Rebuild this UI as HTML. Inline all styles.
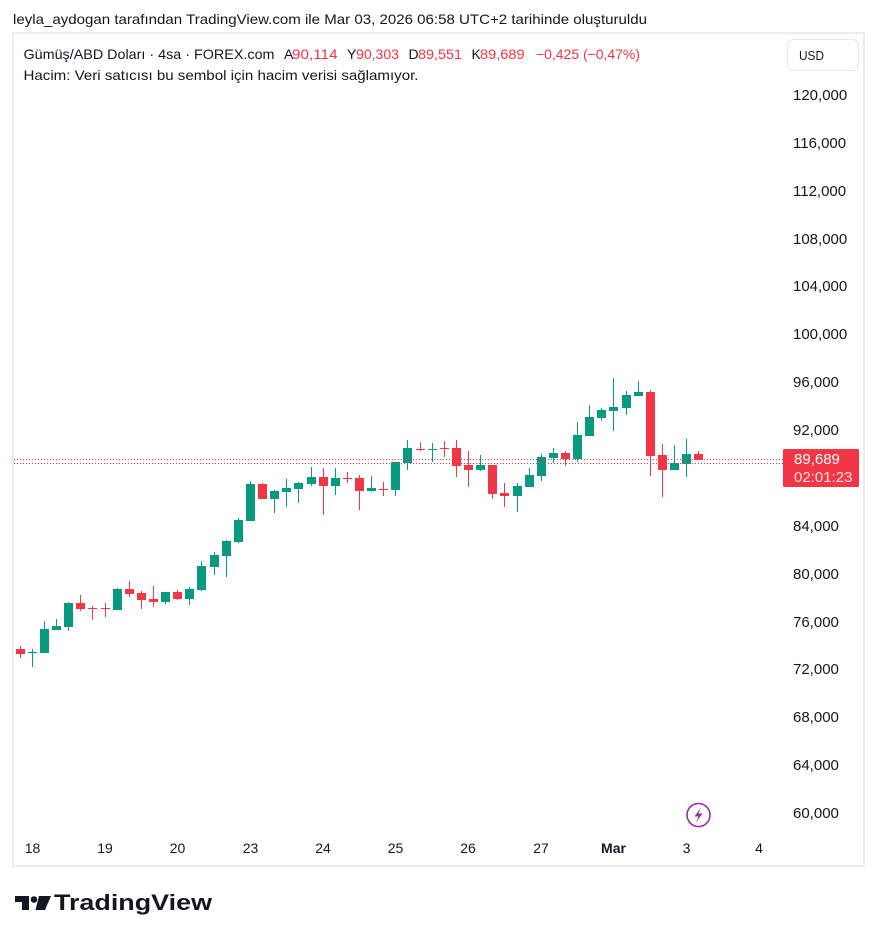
<!DOCTYPE html>
<html><head><meta charset="utf-8"><style>
html,body{margin:0;padding:0;background:#fff;}
svg{display:block;}
text{font-family:"Liberation Sans",Arial,sans-serif;}
</style></head><body>
<svg width="877" height="941" viewBox="0 0 877 941" xmlns="http://www.w3.org/2000/svg">
<rect width="877" height="941" fill="#fff"/>
<text x="13" y="24" font-size="14" fill="#131722" textLength="634" lengthAdjust="spacingAndGlyphs">leyla_aydogan tarafından TradingView.com ile Mar 03, 2026 06:58 UTC+2 tarihinde oluşturuldu</text>
<rect x="13" y="33" width="851" height="833" fill="#fff" stroke="#ececec" stroke-width="2"/>
<text y="59" font-size="14" fill="#131722">
<tspan x="23.5" textLength="251" lengthAdjust="spacingAndGlyphs">Gümüş/ABD Doları · 4sa · FOREX.com</tspan>
</text>
<text y="59" font-size="14" fill="#131722"><tspan x="284">A</tspan></text>
<text y="59" font-size="14" fill="#F23645" x="292" textLength="45.6" lengthAdjust="spacingAndGlyphs">90,114</text>
<text y="59" font-size="14" fill="#131722" x="347">Y</text>
<text y="59" font-size="14" fill="#F23645" x="356" textLength="43" lengthAdjust="spacingAndGlyphs">90,303</text>
<text y="59" font-size="14" fill="#131722" x="408.5">D</text>
<text y="59" font-size="14" fill="#F23645" x="418" textLength="44" lengthAdjust="spacingAndGlyphs">89,551</text>
<text y="59" font-size="14" fill="#131722" x="471.5">K</text>
<text y="59" font-size="14" fill="#F23645" x="480" textLength="44.6" lengthAdjust="spacingAndGlyphs">89,689</text>
<text y="59" font-size="14" fill="#F23645" x="536" textLength="104" lengthAdjust="spacingAndGlyphs">−0,425 (−0,47%)</text>
<text y="80" font-size="14" fill="#131722" x="23.5" textLength="395" lengthAdjust="spacingAndGlyphs">Hacim: Veri satıcısı bu sembol için hacim verisi sağlamıyor.</text>

<rect x="787.5" y="39.5" width="71" height="31" rx="6" fill="#fff" stroke="#e6e6e6" stroke-width="1"/>
<text x="799" y="60" font-size="13" fill="#131722" textLength="25" lengthAdjust="spacingAndGlyphs">USD</text>

<g font-size="15" fill="#131722">
<text x="793" y="100">120,000</text>
<text x="793" y="148">116,000</text>
<text x="793" y="196">112,000</text>
<text x="793" y="244">108,000</text>
<text x="793" y="291">104,000</text>
<text x="793" y="339">100,000</text>
<text x="793" y="387">96,000</text>
<text x="793" y="435">92,000</text>
<text x="793" y="531">84,000</text>
<text x="793" y="579">80,000</text>
<text x="793" y="627">76,000</text>
<text x="793" y="674">72,000</text>
<text x="793" y="722">68,000</text>
<text x="793" y="770">64,000</text>
<text x="793" y="818">60,000</text>
</g>

<g font-size="14" fill="#131722" text-anchor="middle">
<text x="32.5" y="853">18</text>
<text x="105" y="853">19</text>
<text x="177.5" y="853">20</text>
<text x="250.5" y="853">23</text>
<text x="323" y="853">24</text>
<text x="395.5" y="853">25</text>
<text x="468" y="853">26</text>
<text x="541" y="853">27</text>
<text x="613.5" y="853" font-weight="bold">Mar</text>
<text x="686.5" y="853">3</text>
<text x="759" y="853">4</text>
</g>

<!-- candles -->
<g>
<!-- 1 --><rect x="20" y="646" width="1" height="12" fill="#F23645"/><rect x="16" y="649" width="9" height="5" fill="#F23645"/>
<!-- 2 --><rect x="32" y="649" width="1" height="18" fill="#089981"/><rect x="28" y="652" width="9" height="1" fill="#089981"/>
<!-- 3 --><rect x="44" y="621" width="1" height="32" fill="#089981"/><rect x="40" y="629" width="9" height="24" fill="#089981"/>
<!-- 4 --><rect x="56" y="619" width="1" height="11" fill="#089981"/><rect x="52" y="626" width="9" height="4" fill="#089981"/>
<!-- 5 --><rect x="68" y="602" width="1" height="29" fill="#089981"/><rect x="64" y="603" width="9" height="24" fill="#089981"/>
<!-- 6 --><rect x="80" y="595" width="1" height="16" fill="#F23645"/><rect x="76" y="603" width="9" height="6" fill="#F23645"/>
<!-- 7 --><rect x="92" y="606" width="1" height="14" fill="#F23645"/><rect x="88" y="608" width="9" height="1" fill="#F23645"/>
<!-- 8 --><rect x="105" y="603" width="1" height="14" fill="#F23645"/><rect x="101" y="608" width="9" height="1" fill="#F23645"/>
<!-- 9 --><rect x="117" y="588" width="1" height="22" fill="#089981"/><rect x="113" y="589" width="9" height="21" fill="#089981"/>
<!-- 10 --><rect x="129" y="581" width="1" height="16" fill="#F23645"/><rect x="125" y="589" width="9" height="5" fill="#F23645"/>
<!-- 11 --><rect x="141" y="591" width="1" height="18" fill="#F23645"/><rect x="137" y="593" width="9" height="7" fill="#F23645"/>
<!-- 12 --><rect x="153" y="586" width="1" height="21" fill="#F23645"/><rect x="149" y="599" width="9" height="3" fill="#F23645"/>
<!-- 13 --><rect x="165" y="592" width="1" height="12" fill="#089981"/><rect x="161" y="592" width="9" height="10" fill="#089981"/>
<!-- 14 --><rect x="177" y="590" width="1" height="10" fill="#F23645"/><rect x="173" y="592" width="9" height="7" fill="#F23645"/>
<!-- 15 --><rect x="189" y="587" width="1" height="18" fill="#089981"/><rect x="185" y="589" width="9" height="10" fill="#089981"/>
<!-- 16 --><rect x="201" y="561" width="1" height="30" fill="#089981"/><rect x="197" y="566" width="9" height="24" fill="#089981"/>
<!-- 17 --><rect x="214" y="552" width="1" height="23" fill="#089981"/><rect x="210" y="555" width="9" height="12" fill="#089981"/>
<!-- 18 --><rect x="226" y="540" width="1" height="37" fill="#089981"/><rect x="222" y="541" width="9" height="15" fill="#089981"/>
<!-- 19 --><rect x="238" y="518" width="1" height="25" fill="#089981"/><rect x="234" y="520" width="9" height="22" fill="#089981"/>
<!-- 20 --><rect x="250" y="481" width="1" height="40" fill="#089981"/><rect x="246" y="484" width="9" height="37" fill="#089981"/>
<!-- 21 --><rect x="262" y="483" width="1" height="16" fill="#F23645"/><rect x="258" y="484" width="9" height="15" fill="#F23645"/>
<!-- 22 --><rect x="274" y="490" width="1" height="23" fill="#089981"/><rect x="270" y="491" width="9" height="8" fill="#089981"/>
<!-- 23 --><rect x="286" y="479" width="1" height="28" fill="#089981"/><rect x="282" y="488" width="9" height="4" fill="#089981"/>
<!-- 24 --><rect x="298" y="482" width="1" height="21" fill="#089981"/><rect x="294" y="483" width="9" height="6" fill="#089981"/>
<!-- 25 --><rect x="311" y="467" width="1" height="19" fill="#089981"/><rect x="307" y="477" width="9" height="7" fill="#089981"/>
<!-- 26 --><rect x="323" y="468" width="1" height="47" fill="#F23645"/><rect x="319" y="477" width="9" height="9" fill="#F23645"/>
<!-- 27 --><rect x="335" y="468" width="1" height="27" fill="#089981"/><rect x="331" y="478" width="9" height="8" fill="#089981"/>
<!-- 28 --><rect x="347" y="472" width="1" height="11" fill="#F23645"/><rect x="343" y="478" width="9" height="1" fill="#F23645"/>
<!-- 29 --><rect x="359" y="475" width="1" height="35" fill="#F23645"/><rect x="355" y="478" width="9" height="13" fill="#F23645"/>
<!-- 30 --><rect x="371" y="476" width="1" height="16" fill="#089981"/><rect x="367" y="488" width="9" height="3" fill="#089981"/>
<!-- 31 --><rect x="383" y="482" width="1" height="14" fill="#F23645"/><rect x="379" y="489" width="9" height="1" fill="#F23645"/>
<!-- 32 --><rect x="395" y="462" width="1" height="34" fill="#089981"/><rect x="391" y="462" width="9" height="28" fill="#089981"/>
<!-- 33 --><rect x="407" y="440" width="1" height="30" fill="#089981"/><rect x="403" y="448" width="9" height="15" fill="#089981"/>
<!-- 34 --><rect x="420" y="442" width="1" height="9" fill="#F23645"/><rect x="416" y="449" width="9" height="1" fill="#F23645"/>
<!-- 35 --><rect x="432" y="443" width="1" height="19" fill="#089981"/><rect x="428" y="449" width="9" height="1" fill="#089981"/>
<!-- 36 --><rect x="444" y="441" width="1" height="16" fill="#F23645"/><rect x="440" y="448" width="9" height="1" fill="#F23645"/>
<!-- 37 --><rect x="456" y="440" width="1" height="37" fill="#F23645"/><rect x="452" y="448" width="9" height="18" fill="#F23645"/>
<!-- 38 --><rect x="468" y="451" width="1" height="36" fill="#F23645"/><rect x="464" y="465" width="9" height="5" fill="#F23645"/>
<!-- 39 --><rect x="480" y="455" width="1" height="16" fill="#089981"/><rect x="476" y="465" width="9" height="5" fill="#089981"/>
<!-- 40 --><rect x="492" y="465" width="1" height="34" fill="#F23645"/><rect x="488" y="465" width="9" height="29" fill="#F23645"/>
<!-- 41 --><rect x="504" y="483" width="1" height="24" fill="#F23645"/><rect x="500" y="493" width="9" height="3" fill="#F23645"/>
<!-- 42 --><rect x="517" y="483" width="1" height="29" fill="#089981"/><rect x="513" y="486" width="9" height="10" fill="#089981"/>
<!-- 43 --><rect x="529" y="468" width="1" height="19" fill="#089981"/><rect x="525" y="475" width="9" height="12" fill="#089981"/>
<!-- 44 --><rect x="541" y="454" width="1" height="27" fill="#089981"/><rect x="537" y="457" width="9" height="19" fill="#089981"/>
<!-- 45 --><rect x="553" y="448" width="1" height="15" fill="#089981"/><rect x="549" y="453" width="9" height="5" fill="#089981"/>
<!-- 46 --><rect x="565" y="451" width="1" height="15" fill="#F23645"/><rect x="561" y="453" width="9" height="6" fill="#F23645"/>
<!-- 47 --><rect x="577" y="422" width="1" height="40" fill="#089981"/><rect x="573" y="435" width="9" height="24" fill="#089981"/>
<!-- 48 --><rect x="589" y="405" width="1" height="31" fill="#089981"/><rect x="585" y="417" width="9" height="19" fill="#089981"/>
<!-- 49 --><rect x="601" y="408" width="1" height="13" fill="#089981"/><rect x="597" y="410" width="9" height="8" fill="#089981"/>
<!-- 50 --><rect x="613" y="378" width="1" height="53" fill="#089981"/><rect x="609" y="407" width="9" height="4" fill="#089981"/>
<!-- 51 --><rect x="626" y="391" width="1" height="24" fill="#089981"/><rect x="622" y="395" width="9" height="13" fill="#089981"/>
<!-- 52 --><rect x="638" y="381" width="1" height="15" fill="#089981"/><rect x="634" y="392" width="9" height="4" fill="#089981"/>
<!-- 53 --><rect x="650" y="390" width="1" height="86" fill="#F23645"/><rect x="646" y="392" width="9" height="64" fill="#F23645"/>
<!-- 54 --><rect x="662" y="444" width="1" height="53" fill="#F23645"/><rect x="658" y="455" width="9" height="15" fill="#F23645"/>
<!-- 55 --><rect x="674" y="445" width="1" height="25" fill="#089981"/><rect x="670" y="463" width="9" height="7" fill="#089981"/>
<!-- 56 --><rect x="686" y="439" width="1" height="38" fill="#089981"/><rect x="682" y="454" width="9" height="10" fill="#089981"/>
<!-- 57 --><rect x="698" y="451" width="1" height="9" fill="#F23645"/><rect x="694" y="454" width="9" height="6" fill="#F23645"/>
</g>

<line x1="14" y1="459.5" x2="783" y2="459.5" stroke="#F23645" stroke-width="1" stroke-dasharray="1 2"/>
<line x1="14" y1="463.5" x2="783" y2="463.5" stroke="#F23645" stroke-width="1" stroke-dasharray="1 2"/>

<rect x="783" y="449" width="76" height="38" rx="1" fill="#F23645"/>
<text x="794" y="464" font-size="15" fill="#fff">89,689</text>
<text x="794" y="482" font-size="15" fill="#fff" fill-opacity="0.85">02:01:23</text>

<circle cx="698.5" cy="815" r="11.5" fill="#fff" stroke="#9c27b0" stroke-width="1.6"/>
<path d="M701,807.5 L694.5,816.5 H698.5 L696,822.5 L702.5,813.5 H698.5 Z" fill="#9c27b0"/>

<!-- logo -->
<path d="M15,896 H29 V910 H22 V902 H15 Z" fill="#131722"/>
<circle cx="34" cy="899.5" r="3.3" fill="#131722"/>
<path d="M39,896 H51 L45,910 H35.5 Z" fill="#131722"/>
<text x="54" y="910" font-size="22" font-weight="bold" fill="#131722" textLength="158" lengthAdjust="spacingAndGlyphs">TradingView</text>
</svg>
</body></html>
